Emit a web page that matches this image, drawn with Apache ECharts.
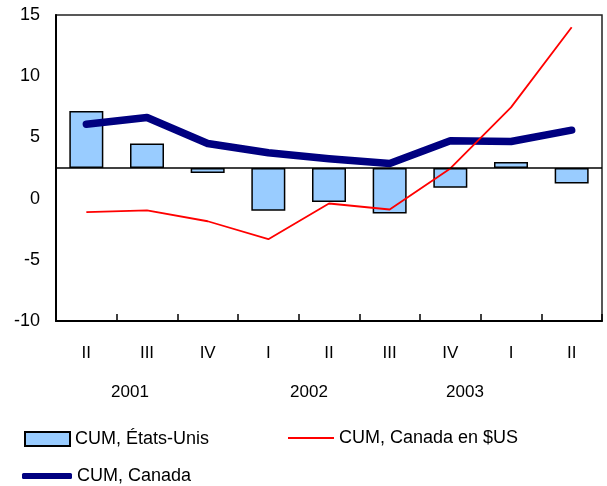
<!DOCTYPE html>
<html>
<head>
<meta charset="utf-8">
<script src="https://cdn.jsdelivr.net/npm/echarts@6/dist/echarts.min.js"></script>
<style>
  html, body { margin: 0; padding: 0; background: #fff; }
  #chart { width: 607px; height: 486px; }
</style>
</head>
<body>
<div id="chart"></div>
<script>
// trimestres et années
const quarters = ['II', 'III', 'IV', 'I', 'II', 'III', 'IV', 'I', 'II']
const years = ['2001', '2002', '2003']
const yTicks = [-10, -5, 0, 5, 10, 15]

// séries
const cumEtatsUnis = [7.15, 4.5, 2.1, -1.0, -0.27, -1.22, 0.88, 3.0, 1.23]
const cumCanadaUS = [-1.1, -0.97, -1.85, -3.32, -0.4, -0.89, 2.46, 7.45, 14.0]
const cumCanada = [6.08, 6.63, 4.5, 3.74, 3.25, 2.87, 4.72, 4.67, 5.59]

// les barres partent de la ligne horizontale à 2,5
const baseLine = 2.5

const font = 'Liberation Sans, Arial, sans-serif'
const legendText = { fontSize: 18, fontFamily: font, color: '#000' }
const chart = echarts.init(document.getElementById('chart'))

const option = {
  animation: false,
  textStyle: { fontFamily: font, color: '#000' },
  grid: {
    left: 56, right: 5, top: 15, bottom: 165,
    show: true, borderColor: '#222', borderWidth: 1.5, backgroundColor: '#fff'
  },
  legend: [
    {
      left: 24, top: 430, padding: 0, itemWidth: 45, itemHeight: 14, itemGap: 5,
      textStyle: legendText,
      data: [{ name: 'CUM, États-Unis', icon: 'rect' }]
    },
    {
      left: 288, top: 429, padding: 0, itemWidth: 46, itemHeight: 2, itemGap: 5,
      textStyle: legendText,
      itemStyle: { borderWidth: 0 },
      data: [{ name: 'CUM, Canada en $US', icon: 'rect' }]
    },
    {
      left: 22, top: 467, padding: 0, itemWidth: 50, itemHeight: 6, itemGap: 3,
      textStyle: legendText,
      itemStyle: { borderWidth: 0 },
      data: [{ name: 'CUM, Canada', icon: 'roundRect' }]
    }
  ],
  xAxis: {
    type: 'category',
    data: quarters,
    axisLine: { onZero: false, lineStyle: { color: '#000', width: 2 } },
    axisTick: { show: true, inside: true, length: 7, lineStyle: { color: '#000', width: 1.5 } },
    axisLabel: { fontSize: 17, color: '#000', margin: 24, fontFamily: font },
    splitLine: { show: false }
  },
  yAxis: {
    type: 'value',
    min: yTicks[0],
    max: yTicks[yTicks.length - 1],
    interval: 5,
    axisLine: { show: true, lineStyle: { color: '#000', width: 2 } },
    axisTick: { show: false },
    axisLabel: { fontSize: 18, color: '#000', margin: 16, fontFamily: font },
    splitLine: { show: false }
  },
  // libellés des années, placés comme dans l'original
  graphic: years.map((y, i) => ({
    type: 'text',
    x: [130, 309, 465][i],
    y: 384,
    style: { text: y, fontSize: 17, fontFamily: font, fill: '#000', textAlign: 'center' }
  })),
  series: [
    {
      name: 'base',
      type: 'bar',
      stack: 'us',
      stackStrategy: 'all',
      barWidth: 34,
      silent: true,
      itemStyle: { color: 'rgba(0,0,0,0)' },
      data: quarters.map(() => baseLine)
    },
    {
      name: 'CUM, États-Unis',
      type: 'bar',
      stack: 'us',
      stackStrategy: 'all',
      barWidth: 34,
      itemStyle: { color: '#99CCFF', borderColor: '#000', borderWidth: 1.5 },
      data: cumEtatsUnis.map(v => +(v - baseLine).toFixed(3)),
      markLine: {
        silent: true,
        symbol: 'none',
        label: { show: false },
        lineStyle: { color: '#000', width: 1.5, type: 'solid' },
        data: [{ yAxis: baseLine }]
      }
    },
    {
      name: 'CUM, Canada',
      type: 'line',
      symbol: 'none',
      data: cumCanada,
      lineStyle: { color: '#000080', width: 7.5, cap: 'round', join: 'round' },
      itemStyle: { color: '#000080' }
    },
    {
      name: 'CUM, Canada en $US',
      type: 'line',
      symbol: 'none',
      data: cumCanadaUS,
      lineStyle: { color: '#FF0000', width: 1.8 },
      itemStyle: { color: '#FF0000' }
    }
  ]
}

chart.setOption(option)
</script>
</body>
</html>
